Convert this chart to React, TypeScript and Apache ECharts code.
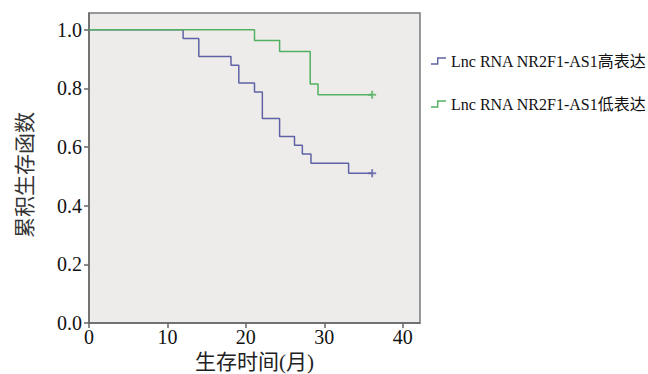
import React, { useEffect, useRef } from "react";
import * as echarts from "echarts";

const seriesNames = ["Lnc RNA NR2F1-AS1高表达", "Lnc RNA NR2F1-AS1低表达"];
const highTimes = [0, 12, 14, 18.1, 19.1, 21.1, 22.1, 24.3, 26.2, 27.2, 28.3, 33.1, 36.1];
const highSurv = [1, 0.97, 0.909, 0.879, 0.818, 0.788, 0.697, 0.636, 0.606, 0.576, 0.545, 0.511, 0.511];
const lowTimes = [0, 21.1, 24.3, 28.2, 29.2, 36.1];
const lowSurv = [1, 0.963, 0.926, 0.815, 0.778, 0.778];
const censorHigh = [[36.1, 0.511]];
const censorLow = [[36.1, 0.778]];
const xTicks = [0, 10, 20, 30, 40];
const yTicks = [0, 0.2, 0.4, 0.6, 0.8, 1.0];
const xTitle = "生存时间(月)";
const yTitle = "累积生存函数";

const BLUE = "#5f62a5";
const GREEN = "#52b060";
const SERIF = "Liberation Serif, Noto Sans CJK SC, serif";
const PLUS = "path://M3,0h2v3h3v2h-3v3h-2v-3h-3v-2h3z";
const STEP = "path://M0,7 L6,7 L6,1 L15,1 L15,2.4 L7.4,2.4 L7.4,8.4 L0,8.4 Z";

export default function App() {
  const ref = useRef<HTMLDivElement>(null);
  useEffect(() => {
    if (!ref.current) return;
    const chart = echarts.init(ref.current, undefined, { renderer: "svg" });
    const axisColor = "#666";
    chart.setOption({
      animation: false,
      backgroundColor: "#ffffff",
      textStyle: { fontFamily: SERIF },
      grid: {
        left: 89,
        top: 13,
        right: 228,
        bottom: 51,
        containLabel: false,
        outerBoundsMode: "none",
        show: true,
        backgroundColor: "#eeecea",
        borderColor: "#7a7a7a",
        borderWidth: 1.5,
      },
      legend: {
        orient: "vertical",
        left: 426,
        top: 48,
        itemGap: 27,
        itemWidth: 15,
        itemHeight: 8,
        data: seriesNames.map((n) => ({ name: n, icon: STEP })),
        itemStyle: { borderWidth: 0 },
        textStyle: { fontFamily: SERIF, fontSize: 16, color: "#111" },
      },
      xAxis: {
        type: "value",
        min: 0,
        max: 42.2,
        interval: 10,
        name: xTitle,
        nameLocation: "middle",
        nameGap: 23,
        nameTextStyle: { fontFamily: SERIF, fontSize: 21, color: "#222" },
        splitLine: { show: false },
        axisLine: { show: true, lineStyle: { color: axisColor, width: 1.5 } },
        axisTick: { show: true, length: 5, customValues: xTicks, lineStyle: { color: axisColor, width: 1.5 } },
        axisLabel: {
          customValues: xTicks,
          margin: 4,
          fontFamily: SERIF,
          fontSize: 20,
          color: "#111",
        },
      },
      yAxis: {
        type: "value",
        min: 0,
        max: 1.057,
        interval: 0.2,
        name: yTitle,
        nameLocation: "middle",
        nameGap: 54,
        nameRotate: 90,
        nameTextStyle: { fontFamily: SERIF, fontSize: 21, color: "#333", padding: [0, 14, 0, 0] },
        splitLine: { show: false },
        axisLine: { show: true, lineStyle: { color: axisColor, width: 1.5 } },
        axisTick: { show: true, length: 5, customValues: yTicks, lineStyle: { color: axisColor, width: 1.5 } },
        axisLabel: {
          customValues: yTicks,
          margin: 7,
          fontFamily: SERIF,
          fontSize: 20,
          color: "#111",
          formatter: (v: number) => v.toFixed(1),
        },
      },
      series: [
        {
          name: seriesNames[0],
          type: "line",
          step: "end",
          symbol: "none",
          color: BLUE,
          lineStyle: { color: BLUE, width: 1.5 },
          data: highTimes.map((t, i) => [t, highSurv[i]]),
        },
        {
          name: seriesNames[1],
          type: "line",
          step: "end",
          symbol: "none",
          color: GREEN,
          lineStyle: { color: GREEN, width: 1.5 },
          data: lowTimes.map((t, i) => [t, lowSurv[i]]),
        },
        {
          name: "censor-high",
          type: "scatter",
          symbol: PLUS,
          symbolSize: 8,
          itemStyle: { color: BLUE },
          data: censorHigh,
        },
        {
          name: "censor-low",
          type: "scatter",
          symbol: PLUS,
          symbolSize: 8,
          itemStyle: { color: GREEN },
          data: censorLow,
        },
      ],
    });
    return () => chart.dispose();
  }, []);
  return (
    <div
      ref={ref}
      style={{ position: "fixed", left: 0, top: 0, width: 648, height: 374 }}
    />
  );
}
